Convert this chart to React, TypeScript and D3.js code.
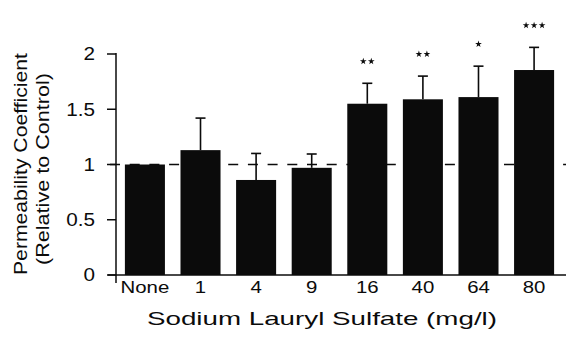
import React, { useEffect, useRef } from 'react';
import * as d3 from 'd3';

const categories = ['None', '1', '4', '9', '16', '40', '64', '80'];
const means = [1.0, 1.13, 0.86, 0.97, 1.55, 1.59, 1.61, 1.855];
const errors = [0, 0.29, 0.24, 0.125, 0.185, 0.21, 0.28, 0.205];
const significance = ['', '', '', '', '**', '**', '*', '***'];
const yTicks = [0, 0.5, 1, 1.5, 2];

const W = 568;
const H = 343;
const FONT = '"Liberation Sans", Arial, Helvetica, sans-serif';
const INK = '#0b0b0b';

const App: React.FC = () => {
  const ref = useRef<SVGSVGElement | null>(null);

  useEffect(() => {
    if (!ref.current) return;
    const svg = d3.select<SVGSVGElement, unknown>(ref.current);
    svg.selectAll('*').remove();

    const y = d3.scaleLinear().domain([0, 2]).range([275, 54]);
    const x = d3
      .scaleBand<string>()
      .domain(categories)
      .range([116, 563])
      .paddingInner(0.28)
      .paddingOuter(0.16);
    const axisX = 116;
    const data = categories.map((c, i) => ({ c, m: means[i], e: errors[i], s: significance[i] }));

    svg.append('rect').attr('width', W).attr('height', H).attr('fill', '#fff');

    // reference line at 1 (drawn under the bars)
    svg.append('line')
      .attr('x1', 108).attr('x2', 566)
      .attr('y1', y(1)).attr('y2', y(1))
      .attr('stroke', INK).attr('stroke-width', 1.5)
      .attr('stroke-dasharray', '10 9.7')
      .attr('stroke-dashoffset', -2);

    // bars
    svg.append('g')
      .selectAll('rect')
      .data(data)
      .join('rect')
      .attr('x', d => x(d.c)!)
      .attr('width', x.bandwidth())
      .attr('y', d => y(d.m))
      .attr('height', d => y(0) - y(d.m))
      .attr('fill', INK);

    // error bars (upper only)
    const eb = svg.append('g').attr('stroke', INK).attr('stroke-width', 1.6);
    data.filter(d => d.e > 0).forEach(d => {
      const cx = x(d.c)! + x.bandwidth() / 2;
      eb.append('line').attr('x1', cx).attr('x2', cx).attr('y1', y(d.m)).attr('y2', y(d.m + d.e));
      eb.append('line').attr('x1', cx - 5).attr('x2', cx + 5).attr('y1', y(d.m + d.e)).attr('y2', y(d.m + d.e));
    });

    // significance stars
    const star = d3.symbol().type(d3.symbolStar).size(14);
    data.filter(d => d.s).forEach(d => {
      const cx = x(d.c)! + x.bandwidth() / 2;
      const n = d.s.length;
      const sy = y(d.m + d.e) - 22;
      for (let k = 0; k < n; k++) {
        svg.append('path')
          .attr('d', star() as string)
          .attr('transform', `translate(${cx + (k - (n - 1) / 2) * 8},${sy})`)
          .attr('fill', INK);
      }
    });

    // axes
    svg.append('line')
      .attr('x1', axisX).attr('x2', axisX)
      .attr('y1', y(2) - 1).attr('y2', 283)
      .attr('stroke', INK).attr('stroke-width', 1.5);
    svg.append('line')
      .attr('x1', 108).attr('x2', 566)
      .attr('y1', y(0)).attr('y2', y(0))
      .attr('stroke', INK).attr('stroke-width', 1.5);

    const yt = svg.append('g');
    yTicks.forEach(t => {
      yt.append('line')
        .attr('x1', axisX - 9).attr('x2', axisX)
        .attr('y1', y(t)).attr('y2', y(t))
        .attr('stroke', INK).attr('stroke-width', 1.5);
      yt.append('text')
        .attr('transform', `translate(95,${y(t)}) scale(1.15,1)`)
        .attr('dy', '0.36em')
        .attr('text-anchor', 'end')
        .style('font-family', FONT)
        .style('font-size', '18px')
        .attr('fill', INK)
        .text(String(t));
    });

    svg.append('g')
      .selectAll('text')
      .data(categories)
      .join('text')
      .attr('transform', d => `translate(${x(d)! + x.bandwidth() / 2},293) scale(1.2,1)`)
      .attr('text-anchor', 'middle')
      .style('font-family', FONT)
      .style('font-size', '17px')
      .attr('fill', INK)
      .text(d => d);

    svg.append('text')
      .attr('x', 322).attr('y', 325)
      .attr('text-anchor', 'middle')
      .attr('textLength', 350)
      .attr('lengthAdjust', 'spacingAndGlyphs')
      .style('font-family', FONT)
      .style('font-size', '18.5px')
      .attr('fill', INK)
      .text('Sodium Lauryl Sulfate (mg/l)');

    const titleLines: [string, number, number, number][] = [
      ['Permeability Coefficient', 26.5, 164, 222],
      ['(Relative to Control)', 48.5, 169, 192],
    ];
    titleLines.forEach(([t, tx, ty, len]) => {
      svg.append('text')
        .attr('transform', `translate(${tx},${ty}) rotate(-90)`)
        .attr('text-anchor', 'middle')
        .attr('textLength', len)
        .attr('lengthAdjust', 'spacingAndGlyphs')
        .style('font-family', FONT)
        .style('font-size', '18px')
        .attr('fill', INK)
        .text(t);
    });
  }, []);

  return (
    <div style={{ position: 'absolute', left: 0, top: 0 }}>
      <svg ref={ref} width={W} height={H} style={{ display: 'block' }} />
    </div>
  );
};

export default App;
